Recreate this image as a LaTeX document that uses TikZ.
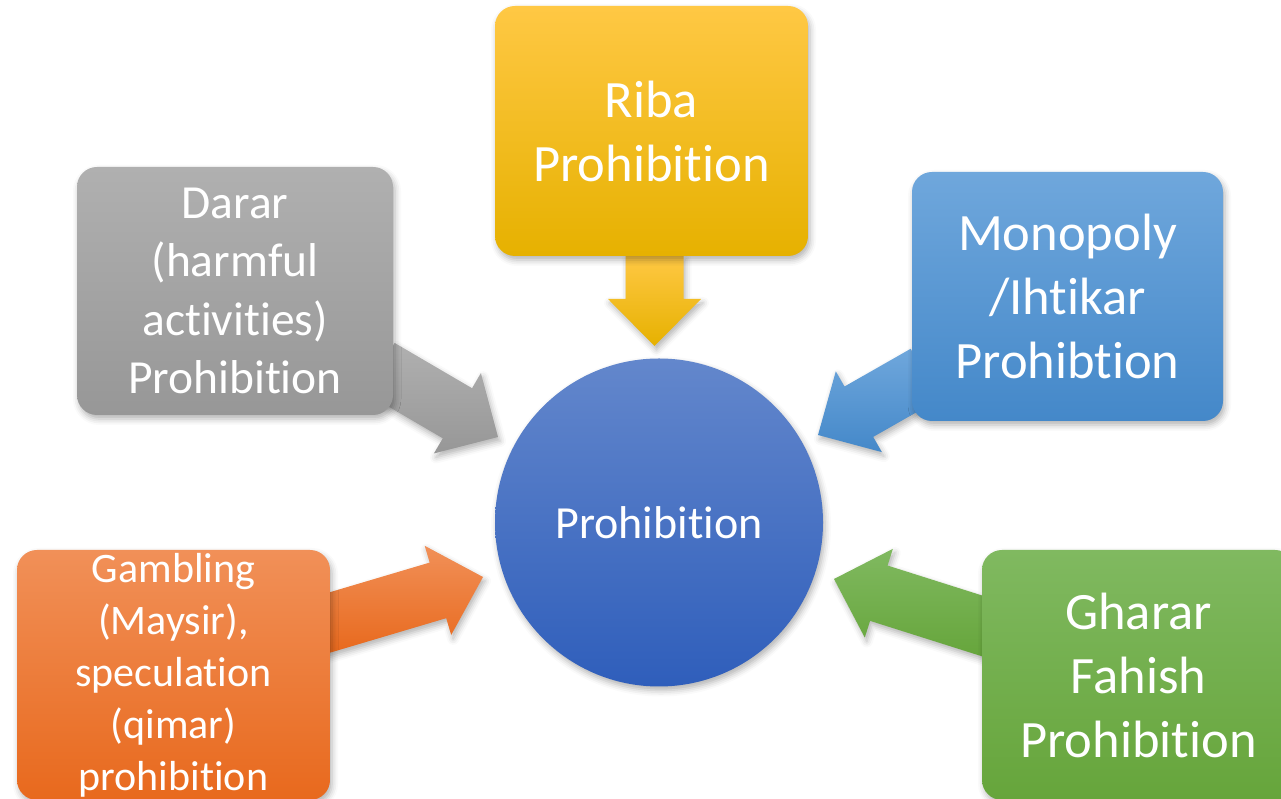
\documentclass[tikz,border=0pt]{standalone}
\usepackage{fontspec}
\setmainfont{Carlito}[Ligatures={NoCommon,NoContextual}]
\usetikzlibrary{calc,shadows.blur}

\definecolor{ribatop}{HTML}{FFC844}
\definecolor{ribabot}{HTML}{E6B100}
\definecolor{darartop}{HTML}{B0B0B0}
\definecolor{dararbot}{HTML}{979797}
\definecolor{monotop}{HTML}{6FA7DC}
\definecolor{monobot}{HTML}{4488C9}
\definecolor{gambtop}{HTML}{F19058}
\definecolor{gambbot}{HTML}{E8691D}
\definecolor{ghartop}{HTML}{80B960}
\definecolor{gharbot}{HTML}{66A53B}
\definecolor{hubtop}{HTML}{6387CC}
\definecolor{hubbot}{HTML}{2F5EBB}

\newcommand{\blockarrow}[3]{%
  \coordinate (hb) at ($(#2)!47pt!(#1)$);
  \path[top color=#3top,bottom color=#3bot,softshadow]
    ($(#1)!29pt!90:(#2)$) -- ($(hb)!29pt!-90:(#1)$) -- ($(hb)!46.5pt!-90:(#1)$) -- (#2)
    -- ($(hb)!46.5pt!90:(#1)$) -- ($(hb)!29pt!90:(#1)$) -- ($(#1)!29pt!-90:(#2)$) -- cycle;}

\begin{document}
\begin{tikzpicture}[x=1pt,y=1pt,
    softshadow/.style={blur shadow={shadow xshift=2pt,shadow yshift=-4pt,shadow blur radius=6pt,shadow opacity=30}},
    prohibbox/.style={rectangle,rounded corners=20pt,minimum width=313pt,minimum height=250pt,
      inner sep=0pt,align=center,text=white,softshadow},
    big/.style={font=\fontsize{52.5}{64}\selectfont}]
    \useasboundingbox (0,0) rectangle (1281,799);
    \clip (0,0) rectangle (1281,799);

    \coordinate (riba-tail) at (654.5,543);
    \coordinate (riba-tip) at (654.5,453);
    \coordinate (darar-tail) at (380,431);
    \coordinate (darar-tip) at (498,362);
    \coordinate (mono-tail) at (925,425);
    \coordinate (mono-tip) at (818,364);
    \coordinate (gamb-tail) at (318,173);
    \coordinate (gamb-tip) at (483,222);
    \coordinate (ghar-tail) at (995,169);
    \coordinate (ghar-tip) at (834,220);

    \blockarrow{riba-tail}{riba-tip}{riba}
    \blockarrow{darar-tail}{darar-tip}{darar}
    \blockarrow{mono-tail}{mono-tip}{mono}
    \blockarrow{gamb-tail}{gamb-tip}{gamb}
    \blockarrow{ghar-tail}{ghar-tip}{ghar}

    \node[prohibbox,big,top color=ribatop,bottom color=ribabot] (riba) at (651.5,668) {Riba\\Prohibition};
    \node[prohibbox,top color=darartop,bottom color=dararbot,minimum width=316pt,minimum height=248pt,
      font=\fontsize{47.5}{58.5}\selectfont] (darar) at (235,508) {Darar\\(harmful\\activities)\\Prohibition};
    \node[prohibbox,big,top color=monotop,bottom color=monobot,minimum width=311pt,minimum height=249pt]
      (mono) at (1067.5,502.5) {Monopoly\\/Ihtikar\\Prohibtion};
    \node[prohibbox,top color=gambtop,bottom color=gambbot,font=\fontsize{42}{52}\selectfont]
      (gamb) at (173.5,124) {Gambling\\(Maysir),\\speculation\\(qimar)\\prohibition};
    \node[prohibbox,big,top color=ghartop,bottom color=gharbot] (ghar) at (1138.5,124) {Gharar\\Fahish\\Prohibition};

    \node[circle,minimum size=328pt,inner sep=0pt,text=white,top color=hubtop,bottom color=hubbot,softshadow,
      font=\fontsize{46}{56}\selectfont] (hub) at (659,276.5) {Prohibition};
\end{tikzpicture}
\end{document}
